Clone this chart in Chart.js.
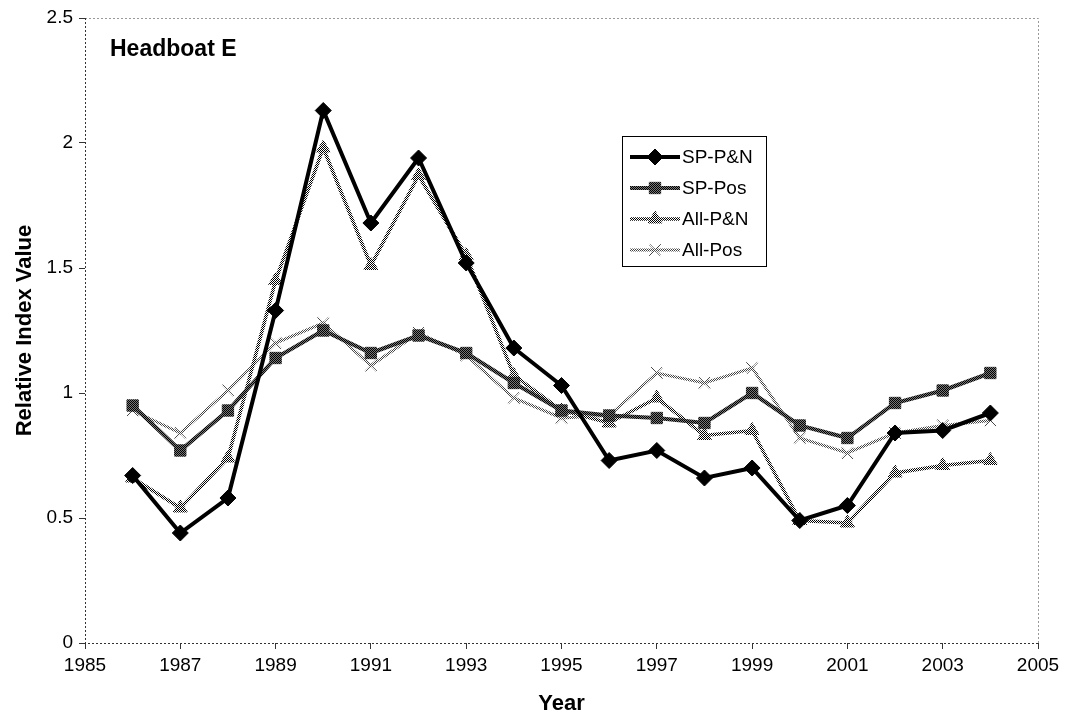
<!DOCTYPE html>
<html>
<head>
<meta charset="utf-8">
<script src="https://cdn.jsdelivr.net/npm/chart.js@4/dist/chart.umd.min.js"></script>
<style>
  html, body { margin: 0; padding: 0; background: #fff; }
  #wrap { width: 1067px; height: 717px; position: relative; }
</style>
</head>
<body>
<div id="wrap"><canvas id="myChart" width="1067" height="717"></canvas></div>
<script>
// years and the four index series
var years = [1986, 1987, 1988, 1989, 1990, 1991, 1992, 1993, 1994, 1995,
             1996, 1997, 1998, 1999, 2000, 2001, 2002, 2003, 2004];
var spPN  = [0.67, 0.44, 0.58, 1.33, 2.13, 1.68, 1.94, 1.52, 1.18, 1.03,
             0.73, 0.77, 0.66, 0.70, 0.49, 0.55, 0.84, 0.85, 0.92];
var spPos = [0.95, 0.77, 0.93, 1.14, 1.25, 1.16, 1.23, 1.16, 1.04, 0.93,
             0.91, 0.90, 0.88, 1.00, 0.87, 0.82, 0.96, 1.01, 1.08];
var allPN = [0.66, 0.54, 0.74, 1.45, 1.98, 1.51, 1.87, 1.55, 1.07, 0.93,
             0.88, 0.98, 0.83, 0.85, 0.49, 0.48, 0.68, 0.71, 0.73];
var allPos = [0.93, 0.84, 1.01, 1.20, 1.28, 1.11, 1.24, 1.15, 0.98, 0.90,
              0.91, 1.08, 1.04, 1.10, 0.82, 0.76, 0.84, 0.87, 0.89];
var seriesNames = ["SP-P&N", "SP-Pos", "All-P&N", "All-Pos"];
var yTicks = [0, 0.5, 1, 1.5, 2, 2.5];

var FONT = "'Liberation Sans', Arial, sans-serif";

function checker(fg, bg) {
    var c = document.createElement('canvas');
    c.width = 2; c.height = 2;
    var g = c.getContext('2d');
    g.fillStyle = bg; g.fillRect(0, 0, 2, 2);
    g.fillStyle = fg; g.fillRect(0, 0, 1, 1); g.fillRect(1, 1, 1, 1);
    return g.createPattern(c, 'repeat');
}

function pts(vals) {
    return vals.map(function (v, i) { return {x: years[i], y: v}; });
}

var patPos = checker('#000', '#777');
var patAllPN = checker('#000', '#fff');
var patAllPos = checker('#444', '#fff');

var frame = {
    id: 'frame',
    afterDraw: function (chart) {
        var a = chart.chartArea, ctx = chart.ctx;
        ctx.save();
        ctx.lineWidth = 1;
        ctx.setLineDash([2, 2]);
        ctx.strokeStyle = '#999';
        ctx.beginPath();
        ctx.moveTo(a.left, a.top + 0.5); ctx.lineTo(a.right + 0.5, a.top + 0.5);
        ctx.lineTo(a.right + 0.5, a.bottom);
        ctx.stroke();
        ctx.strokeStyle = '#333';
        ctx.beginPath();
        ctx.moveTo(a.left + 0.5, a.top); ctx.lineTo(a.left + 0.5, a.bottom + 0.5);
        ctx.lineTo(a.right, a.bottom + 0.5);
        ctx.stroke();
        ctx.setLineDash([]);

        // chart label
        ctx.fillStyle = '#000';
        ctx.font = 'bold 23px ' + FONT;
        ctx.textBaseline = 'middle';
        ctx.textAlign = 'left';
        ctx.fillText('Headboat E', a.left + 25, a.top + 32);

        // legend box
        var lx = 622, ly = 136, lw = 144, lh = 130;
        ctx.fillStyle = '#fff';
        ctx.fillRect(lx, ly, lw, lh);
        ctx.strokeStyle = '#000';
        ctx.lineWidth = 1;
        ctx.strokeRect(lx + 0.5, ly + 0.5, lw, lh);
        ctx.font = '19px ' + FONT;
        chart.data.datasets.forEach(function (ds, i) {
            var y = ly + 21 + i * 31;
            ctx.strokeStyle = ds.borderColor;
            ctx.lineWidth = ds.borderWidth;
            ctx.beginPath();
            ctx.moveTo(lx + 8, y); ctx.lineTo(lx + 58, y);
            ctx.stroke();
            ctx.fillStyle = ds.pointBackgroundColor;
            ctx.strokeStyle = ds.pointBorderColor;
            ctx.lineWidth = ds.pointBorderWidth;
            Chart.helpers.drawPoint(ctx, {pointStyle: ds.pointStyle, radius: ds.pointRadius, rotation: 0, borderWidth: ds.pointBorderWidth}, lx + 33, y);
            ctx.fillStyle = '#000';
            ctx.fillText(ds.label, lx + 60, y + 1);
        });
        ctx.restore();
    }
};

var ctx = document.getElementById('myChart').getContext('2d');
var myChart = new Chart(ctx, {
    type: 'line',
    data: {
        datasets: [{
            label: seriesNames[0],
            data: pts(spPN),
            borderColor: '#000',
            borderWidth: 4,
            pointStyle: 'rectRot',
            pointRadius: 8,
            pointBackgroundColor: '#000',
            pointBorderColor: '#000',
            pointBorderWidth: 1,
            order: 1
        }, {
            label: seriesNames[1],
            data: pts(spPos),
            borderColor: patPos,
            borderWidth: 4,
            pointStyle: 'rect',
            pointRadius: 8,
            pointBackgroundColor: patPos,
            pointBorderColor: patPos,
            pointBorderWidth: 1,
            order: 2
        }, {
            label: seriesNames[2],
            data: pts(allPN),
            borderColor: patAllPN,
            borderWidth: 3.5,
            pointStyle: 'triangle',
            pointRadius: 8,
            pointBackgroundColor: patAllPN,
            pointBorderColor: patAllPN,
            pointBorderWidth: 1,
            order: 3
        }, {
            label: seriesNames[3],
            data: pts(allPos),
            borderColor: patAllPos,
            borderWidth: 3,
            pointStyle: 'crossRot',
            pointRadius: 8,
            pointBackgroundColor: patAllPos,
            pointBorderColor: patAllPos,
            pointBorderWidth: 1.5,
            order: 4
        }]
    },
    options: {
        responsive: false,
        animation: false,
        layout: { padding: { top: 18, right: 29, left: 0, bottom: 0 } },
        plugins: { legend: { display: false }, tooltip: { enabled: false } },
        elements: { line: { tension: 0 } },
        scales: {
            x: {
                type: 'linear',
                min: 1985, max: 2005,
                grid: { drawOnChartArea: false, drawTicks: true, tickLength: 6, color: '#333' },
                border: { display: false },
                ticks: {
                    stepSize: 2, color: '#000', padding: 5,
                    font: { family: FONT, size: 19 },
                    callback: function (v) { return String(v); }
                },
                title: { display: true, text: 'Year', color: '#000', font: { family: FONT, size: 22, weight: 'bold' }, padding: { top: 6, bottom: 0 } },
                afterFit: function (s) { s.height = 74; }
            },
            y: {
                min: 0, max: 2.5,
                afterBuildTicks: function (s) { s.ticks = yTicks.map(function (v) { return {value: v}; }); },
                grid: { drawOnChartArea: false, drawTicks: true, tickLength: 6, color: '#333' },
                border: { display: false },
                ticks: {
                    color: '#000', padding: 6, font: { family: FONT, size: 19 },
                    callback: function (v) { return String(v); }
                },
                title: { display: true, text: 'Relative Index Value', color: '#000', font: { family: FONT, size: 22, weight: 'bold' }, padding: { top: 12, bottom: 0 } },
                afterFit: function (s) { s.width = 85; }
            }
        }
    },
    plugins: [frame]
});
</script>
</body>
</html>
